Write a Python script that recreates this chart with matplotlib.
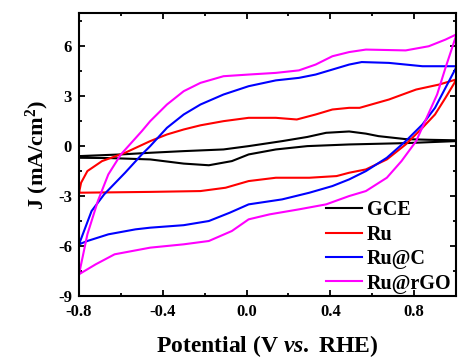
import matplotlib
matplotlib.use('Agg')
import matplotlib.pyplot as plt
from matplotlib.ticker import MultipleLocator

plt.rcParams['font.family'] = 'Liberation Serif'
plt.rcParams['font.weight'] = 'bold'
plt.rcParams['axes.unicode_minus'] = False
plt.rcParams['mathtext.fontset'] = 'custom'
plt.rcParams['mathtext.rm'] = 'Liberation Serif:bold'
plt.rcParams['mathtext.bf'] = 'Liberation Serif:bold'
plt.rcParams['mathtext.it'] = 'Liberation Serif:bold:italic'

# each CV is a closed loop: anodic branch (-0.8 -> 1.0) then cathodic branch back
gce_x = [-0.8, -0.6, -0.46, -0.3, -0.11, 0.01, 0.17, 0.29, 0.38, 0.49, 0.57, 0.63, 0.76, 0.87, 1.0,
         1.0, 0.76, 0.49, 0.29, 0.14, 0.01, -0.07, -0.18, -0.3, -0.46, -0.65, -0.8]
gce_y = [-0.6, -0.5, -0.4, -0.3, -0.2, 0.0, 0.3, 0.55, 0.8, 0.88, 0.75, 0.6, 0.42, 0.38, 0.35,
         0.3, 0.18, 0.1, 0.0, -0.2, -0.5, -0.9, -1.15, -1.05, -0.8, -0.72, -0.7]

ru_x = [-0.8, -0.79, -0.76, -0.69, -0.58, -0.46, -0.38, -0.3, -0.22, -0.11, 0.01, 0.14, 0.24, 0.33, 0.41,
        0.49, 0.54, 0.68, 0.81, 0.92, 1.0,
        1.0, 0.95, 0.9, 0.84, 0.76, 0.67, 0.57, 0.49, 0.43, 0.3, 0.14, 0.01, -0.1, -0.22, -0.46, -0.8]
ru_y = [-2.8, -2.2, -1.5, -0.9, -0.4, 0.3, 0.7, 1.0, 1.25, 1.5, 1.7, 1.7, 1.6, 1.9, 2.2,
        2.3, 2.3, 2.8, 3.4, 3.7, 4.0,
        3.95, 2.9, 1.9, 1.1, 0.1, -0.8, -1.4, -1.6, -1.8, -1.9, -1.9, -2.1, -2.5, -2.7, -2.75, -2.8]

ruc_x = [-0.8, -0.74, -0.68, -0.58, -0.5, -0.46, -0.38, -0.3, -0.22, -0.11, 0.01, 0.14, 0.25, 0.33, 0.41,
         0.49, 0.55, 0.68, 0.84, 1.0,
         1.0, 0.95, 0.9, 0.84, 0.76, 0.67, 0.57, 0.49, 0.41, 0.3, 0.17, 0.01, -0.08, -0.18, -0.3, -0.46,
         -0.53, -0.66, -0.76, -0.8]
ruc_y = [-5.9, -3.9, -2.9, -1.6, -0.5, 0.0, 1.1, 1.9, 2.5, 3.1, 3.6, 3.95, 4.1, 4.3, 4.6,
         4.9, 5.05, 5.0, 4.8, 4.8,
         4.7, 3.5, 2.3, 1.3, 0.3, -0.7, -1.5, -2.0, -2.4, -2.8, -3.2, -3.5, -4.0, -4.5, -4.75, -4.9,
         -5.0, -5.3, -5.7, -5.9]

rurgo_x = [-0.8, -0.76, -0.71, -0.66, -0.6, -0.5, -0.46, -0.38, -0.3, -0.22, -0.11, 0.01, 0.14, 0.25, 0.33,
           0.41, 0.49, 0.57, 0.76, 0.87, 0.95, 1.0,
           1.0, 0.95, 0.91, 0.86, 0.81, 0.74, 0.67, 0.57, 0.49, 0.38, 0.25, 0.11, 0.01, -0.07, -0.18, -0.3,
           -0.46, -0.63, -0.72, -0.8]
rurgo_y = [-7.7, -5.3, -3.3, -1.7, -0.5, 0.9, 1.5, 2.5, 3.3, 3.8, 4.2, 4.3, 4.4, 4.55, 4.9,
           5.4, 5.65, 5.8, 5.75, 6.0, 6.4, 6.7,
           6.6, 4.7, 3.1, 1.7, 0.3, -0.9, -1.9, -2.7, -3.0, -3.5, -3.8, -4.1, -4.4, -5.1, -5.7, -5.9,
           -6.1, -6.5, -7.1, -7.7]

fig = plt.figure(figsize=(4.58, 3.6), dpi=100)
ax = fig.add_axes([0.1725, 0.178, 0.823, 0.786])

ax.plot(gce_x, gce_y, color='black', lw=1.5, label='GCE')
ax.plot(ru_x, ru_y, color='red', lw=1.5, label='Ru')
ax.plot(ruc_x, ruc_y, color='blue', lw=1.5, label='Ru@C')
ax.plot(rurgo_x, rurgo_y, color='magenta', lw=1.5, label='Ru@rGO')

ax.set_xlim(-0.8, 1.0)
ax.set_ylim(-9, 8)
ax.xaxis.set_major_locator(MultipleLocator(0.4))
ax.xaxis.set_minor_locator(MultipleLocator(0.2))
ax.yaxis.set_major_locator(MultipleLocator(3))
ax.yaxis.set_minor_locator(MultipleLocator(1.5))
ax.tick_params(which='both', direction='in', top=True, right=True, labelsize=12, width=1.3)
ax.tick_params(which='major', length=4)
ax.tick_params(axis='x', which='major', pad=6)
ax.tick_params(axis='y', which='major', pad=5)
ax.tick_params(which='minor', length=2.5)
for s in ax.spines.values():
    s.set_linewidth(1.5)
for t in ax.get_xticklabels() + ax.get_yticklabels():
    t.set_fontweight('bold')

ax.set_xlabel(r'Potential (V $\mathit{vs.}$ RHE)', fontsize=17, fontweight='bold', labelpad=9)
ax.set_ylabel(r'J (mA/cm$^{\mathbf{2}}$)', fontsize=16, fontweight='bold', labelpad=5)

leg = ax.legend(loc='lower right', frameon=False, fontsize=14.5, handlelength=1.8,
                handletextpad=0.25, labelspacing=0.22, borderaxespad=0.0,
                bbox_to_anchor=(1.01, -0.02))

fig.savefig('out.png', dpi=100)
